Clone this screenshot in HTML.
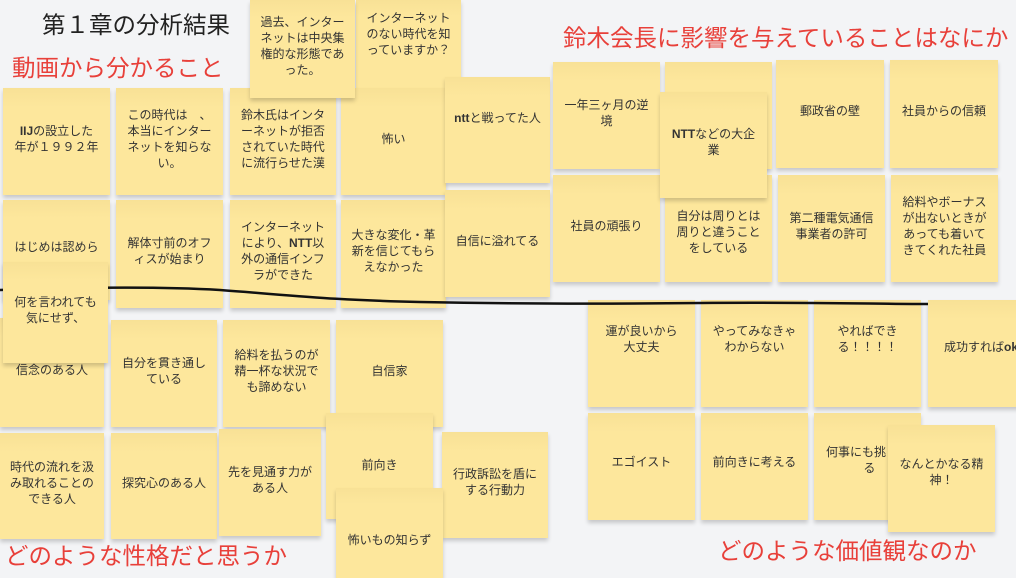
<!DOCTYPE html>
<html><head><meta charset="utf-8"><style>
body{margin:0;width:1016px;height:571px;background:#f3f4f6;position:relative;overflow:hidden;font-family:"Liberation Sans","Noto Sans CJK JP",sans-serif;}
.n{position:absolute;background:#fde79c;box-shadow:0 3px 4px rgba(0,0,0,.18);display:flex;align-items:center;justify-content:center;text-align:center;font-size:12px;line-height:16px;color:#333;white-space:nowrap;padding-bottom:6px;box-sizing:border-box;background-image:linear-gradient(#f8e196,#fde79c 18%);}
.t{position:absolute;white-space:nowrap;font-size:23.5px;}
.r{color:#e8403a;}
</style></head><body>
<div class="t" style="left:42px;top:6px;color:#222">第１章の分析結果</div>
<div class="t r" style="left:12px;top:49px">動画から分かること</div>
<div class="t r" style="left:563px;top:19px">鈴木会長に影響を与えていることはなにか</div>

<div class="n" style="left:356px;top:0;width:105px;height:90px;align-items:flex-start;padding-top:10px"><span>インターネット<br>のない時代を知<br>っていますか？</span></div>
<div class="n" style="left:3px;top:88px;width:107px;height:107px"><span><b>IIJ</b>の設立した<br>年が１９９２年</span></div>
<div class="n" style="left:116px;top:88px;width:107px;height:107px"><span>この時代は　、<br>本当にインター<br>ネットを知らな<br>い。</span></div>
<div class="n" style="left:230px;top:88px;width:106px;height:107px"><span>鈴木氏はインタ<br>ーネットが拒否<br>されていた時代<br>に流行らせた漢</span></div>
<div class="n" style="left:341px;top:88px;width:105px;height:107px"><span>怖い</span></div>
<div class="n" style="left:250px;top:0;width:105px;height:98px"><span>過去、インター<br>ネットは中央集<br>権的な形態であ<br>った。</span></div>
<div class="n" style="left:445px;top:77px;width:105px;height:106px;padding-bottom:24px"><span><b>ntt</b>と戦ってた人</span></div>
<div class="n" style="left:3px;top:200px;width:107px;height:100px"><span>はじめは認めら</span></div>
<div class="n" style="left:116px;top:200px;width:107px;height:108px"><span>解体寸前のオフ<br>ィスが始まり</span></div>
<div class="n" style="left:230px;top:200px;width:106px;height:108px"><span>インターネット<br>により、<b>NTT</b>以<br>外の通信インフ<br>ラができた</span></div>
<div class="n" style="left:341px;top:200px;width:105px;height:108px"><span>大きな変化・革<br>新を信じてもら<br>えなかった</span></div>
<div class="n" style="left:445px;top:190px;width:105px;height:107px"><span>自信に溢れてる</span></div>

<div class="n" style="left:553px;top:62px;width:107px;height:107px"><span>一年三ヶ月の逆<br>境</span></div>
<div class="n" style="left:665px;top:62px;width:107px;height:107px"></div>
<div class="n" style="left:776px;top:60px;width:108px;height:108px"><span>郵政省の壁</span></div>
<div class="n" style="left:890px;top:60px;width:108px;height:108px"><span>社員からの信頼</span></div>
<div class="n" style="left:553px;top:175px;width:107px;height:107px"><span>社員の頑張り</span></div>
<div class="n" style="left:665px;top:175px;width:107px;height:107px;padding-top:12px"><span>自分は周りとは<br>周りと違うこと<br>をしている</span></div>
<div class="n" style="left:660px;top:92px;width:107px;height:106px"><span><b>NTT</b>などの大企<br>業</span></div>
<div class="n" style="left:778px;top:175px;width:107px;height:107px"><span>第二種電気通信<br>事業者の許可</span></div>
<div class="n" style="left:891px;top:175px;width:107px;height:107px"><span>給料やボーナス<br>が出ないときが<br>あっても着いて<br>きてくれた社員</span></div>

<svg style="position:absolute;left:0;top:0;z-index:2" width="1016" height="571"><path d="M0 290 C60 288 150 286 220 290 C300 296 330 300 420 302 C520 304 600 304 700 303 C800 302 880 304 928 304" fill="none" stroke="#111" stroke-width="2.5"/></svg>

<div class="n" style="left:0;top:318px;width:104px;height:109px"><span>信念のある人</span></div>
<div class="n" style="left:3px;top:262px;width:105px;height:101px;z-index:3"><span>何を言われても<br>気にせず、</span></div>
<div class="n" style="left:111px;top:320px;width:106px;height:107px"><span>自分を貫き通し<br>ている</span></div>
<div class="n" style="left:223px;top:320px;width:107px;height:107px"><span>給料を払うのが<br>精一杯な状況で<br>も諦めない</span></div>
<div class="n" style="left:336px;top:320px;width:107px;height:107px"><span>自信家</span></div>
<div class="n" style="left:0;top:433px;width:104px;height:106px"><span>時代の流れを汲<br>み取れることの<br>できる人</span></div>
<div class="n" style="left:111px;top:433px;width:106px;height:106px"><span>探究心のある人</span></div>
<div class="n" style="left:219px;top:429px;width:102px;height:107px"><span>先を見通す力が<br>ある人</span></div>
<div class="n" style="left:326px;top:413px;width:107px;height:106px;align-items:flex-start;padding-top:44px"><span>前向き</span></div>
<div class="n" style="left:442px;top:432px;width:106px;height:106px"><span>行政訴訟を盾に<br>する行動力</span></div>
<div class="n" style="left:336px;top:488px;width:107px;height:90px;align-items:flex-start;padding-top:44px"><span>怖いもの知らず</span></div>
<div class="t r" style="left:5px;top:537px">どのような性格だと思うか</div>

<div class="n" style="left:588px;top:300px;width:107px;height:107px;padding-bottom:30px"><span>運が良いから<br>大丈夫</span></div>
<div class="n" style="left:701px;top:300px;width:107px;height:107px;padding-bottom:30px"><span>やってみなきゃ<br>わからない</span></div>
<div class="n" style="left:814px;top:300px;width:107px;height:107px;padding-bottom:30px"><span>やればでき<br>る！！！！</span></div>
<div class="n" style="left:928px;top:300px;width:100px;height:107px;justify-content:flex-start;padding-left:16px;padding-bottom:14px"><span>成功すれば<b>ok</b></span></div>
<div class="n" style="left:588px;top:413px;width:107px;height:107px;padding-bottom:10px"><span>エゴイスト</span></div>
<div class="n" style="left:701px;top:413px;width:107px;height:107px;padding-bottom:10px"><span>前向きに考える</span></div>
<div class="n" style="left:814px;top:413px;width:107px;height:107px;justify-content:flex-start;padding-left:12px;padding-bottom:14px"><span>何事にも挑<br>&nbsp;&nbsp;&nbsp;&nbsp;&nbsp;&nbsp;&nbsp;&nbsp;る</span></div>
<div class="n" style="left:888px;top:425px;width:107px;height:107px;padding-bottom:14px"><span>なんとかなる精<br>神！</span></div>
<div class="t r" style="left:718px;top:532px">どのような価値観なのか</div>
</body></html>
